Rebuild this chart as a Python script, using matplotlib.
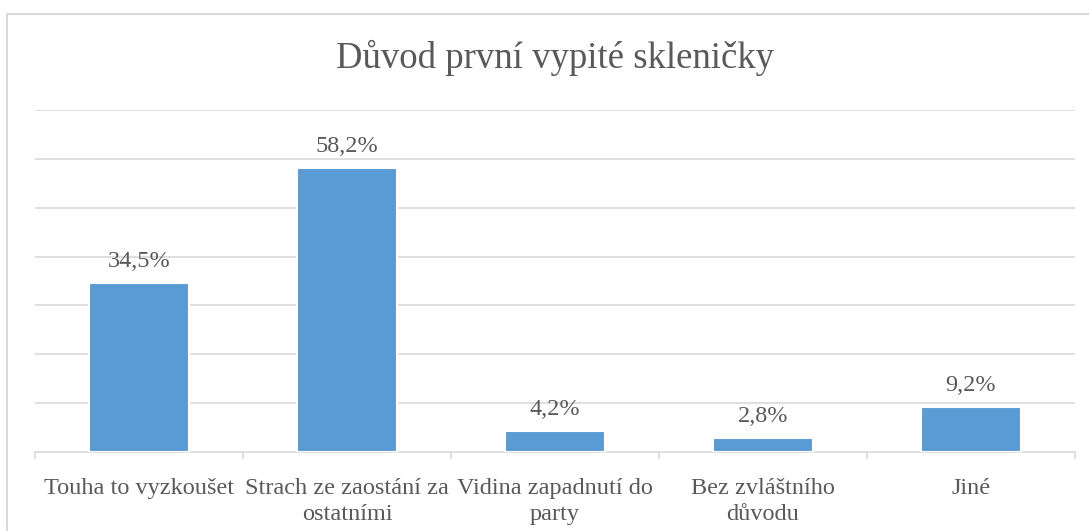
import numpy as np
import matplotlib
matplotlib.use("Agg")
import matplotlib.pyplot as plt
from matplotlib.lines import Line2D

categories = ["Touha to vyzkoušet", "Strach ze zaostání za\nostatními",
              "Vidina zapadnutí do\nparty", "Bez zvláštního\ndůvodu", "Jiné"]
values = [34.5, 58.2, 4.2, 2.8, 9.2]
labels = ["34,5%", "58,2%", "4,2%", "2,8%", "9,2%"]
title = "Důvod první vypité skleničky"

W, H = 1089, 531
plt.rcParams['font.family'] = ['Liberation Serif', 'DejaVu Serif']
text_col = "#595959"
grid_col = "#D9D9D9"

fig = plt.figure(figsize=(W / 100, H / 100), dpi=100)
fig.patch.set_facecolor("white")

# chart frame (only top and left visible, rest is cropped)
fig.add_artist(Line2D([7 / W, 1], [1 - 14 / H, 1 - 14 / H], color=grid_col, lw=1.5))
fig.add_artist(Line2D([7 / W, 7 / W], [0, 1 - 14 / H], color=grid_col, lw=1.5))

ax = fig.add_axes([35 / W, (H - 452) / H, 1040 / W, (452 - 110) / H])
x = np.arange(len(categories))
ax.bar(x, values, width=0.48, color="#5B9BD5", edgecolor="white", linewidth=1.5, zorder=3)

ax.set_xlim(-0.5, len(categories) - 0.5)
ax.set_ylim(0, 70)
ax.set_yticks(np.arange(10, 71, 10))
ax.yaxis.grid(True, color=grid_col, lw=1.2, zorder=0)
ax.tick_params(axis='y', left=False, labelleft=False)

ax.set_xticks(x)
ax.set_xticklabels(categories, fontsize=17.5, color=text_col, linespacing=1.3)
ax.tick_params(axis='x', which='major', length=0, pad=19)
ax.set_xticks(np.arange(-0.5, len(categories), 1), minor=True)
ax.tick_params(axis='x', which='minor', length=5, color=grid_col, width=1.2)

for s in ["top", "right", "left"]:
    ax.spines[s].set_visible(False)
ax.spines["bottom"].set_color(grid_col)
ax.spines["bottom"].set_linewidth(1.2)

for xi, v, lab in zip(x, values, labels):
    ax.annotate(lab, (xi, v), xytext=(0, 8), textcoords="offset points",
                ha="center", va="bottom", fontsize=17.5, color=text_col)

fig.text(555 / W, 1 - 58 / H, title, ha="center", va="center", fontsize=26.5, color=text_col)

fig.savefig("out.png", dpi=100)
